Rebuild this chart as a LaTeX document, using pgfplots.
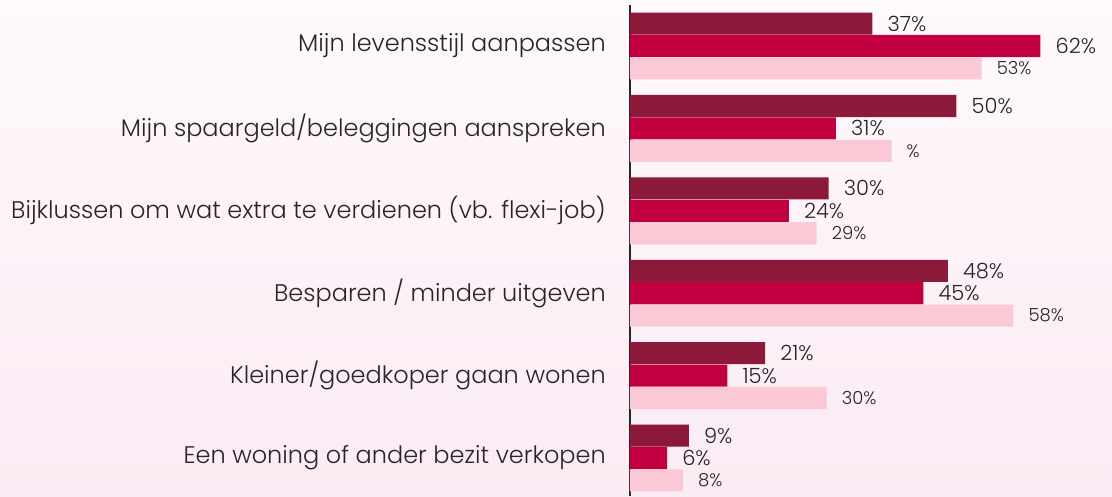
\documentclass[border=0pt]{standalone}
\usepackage{pgfplots}
\pgfplotsset{compat=1.18}
\usepackage{fontspec}
\setmainfont{Poppins Light}
\definecolor{cMaroon}{RGB}{140,24,58}
\definecolor{cCrimson}{RGB}{194,0,64}
\definecolor{cPink}{RGB}{251,201,213}
\definecolor{cText}{RGB}{40,36,40}
\definecolor{bgTop}{RGB}{254,249,252}
\definecolor{bgBot}{RGB}{251,235,244}
\begin{document}
\begin{tikzpicture}[x=1pt,y=1pt]
\shade[use as bounding box, top color=bgTop, bottom color=bgBot] (0,0) rectangle (1112,496);
\begin{axis}[
  at={(630pt,0pt)}, anchor=south west,
  scale only axis, width=482pt, height=491pt,
  xmin=0, xmax=72.8,
  ymin=-0.4976, ymax=5.461, y dir=reverse,
  axis x line=none,
  axis y line*=left,
  y axis line style={draw=cText, line width=1.3pt, -},
  xbar, bar width=0.268,
  ytick={0,1,2,3,4,5},
  yticklabels={Mijn levensstijl aanpassen,Mijn spaargeld/beleggingen aanspreken,Bijklussen om wat extra te verdienen (vb. flexi-job),Besparen / minder uitgeven,Kleiner/goedkoper gaan wonen,Een woning of ander bezit verkopen},
  major tick length=0pt,
  yticklabel style={font=\fontsize{24}{28}\selectfont, text=cText, inner sep=0pt, xshift=-24pt},
  point meta=explicit symbolic,
  nodes near coords={\pgfplotspointmeta},
  nodes near coords align={horizontal},
  every node near coord/.append style={anchor=west, inner sep=0pt, xshift=15pt, text=cText},
  clip=false,
]
\addplot[draw=none, fill=cMaroon, bar shift=-0.272, every node near coord/.append style={font=\fontsize{21}{24}\selectfont}]
 coordinates {(36.6,0) [37\%] (49.3,1) [50\%] (30,2) [30\%] (48,3) [48\%] (20.4,4) [21\%] (8.9,5) [9\%]};
\addplot[draw=none, fill=cCrimson, bar shift=0, every node near coord/.append style={font=\fontsize{21}{24}\selectfont}]
 coordinates {(62,0) [62\%] (31.1,1) [31\%] (24,2) [24\%] (44.3,3) [45\%] (14.7,4) [15\%] (5.6,5) [6\%]};
\addplot[draw=none, fill=cPink, bar shift=0.272, every node near coord/.append style={font=\fontsize{18}{22}\selectfont}]
 coordinates {(53.1,0) [53\%] (39.5,1) [\%] (28.2,2) [29\%] (57.9,3) [58\%] (29.7,4) [30\%] (8,5) [8\%]};
\end{axis}
\end{tikzpicture}
\end{document}
